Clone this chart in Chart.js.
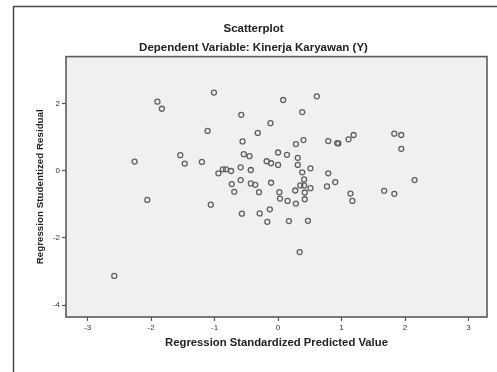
<!DOCTYPE html>
<html>
<head>
<meta charset="utf-8">
<script src="https://cdn.jsdelivr.net/npm/chart.js@4.4.0/dist/chart.umd.min.js"></script>
<style>
  html, body { margin: 0; padding: 0; background: #fff; }
  #wrap { width: 497px; height: 372px; }
</style>
</head>
<body>
<div id="wrap"><canvas id="scatterChart" width="497" height="372"></canvas></div>
<script>
// Regression standardized predicted value (x) vs studentized residual (y)
const predictedValues = [
  -2.58, -2.26, -2.06, -1.90, -1.83, -1.54, -1.47, -1.20, -1.11, -1.06,
  -1.01, -0.94, -0.87, -0.82, -0.74, -0.73, -0.69, -0.59, -0.59, -0.58,
  -0.57, -0.56, -0.54, -0.45, -0.43, -0.43, -0.36, -0.32, -0.30, -0.29,
  -0.18, -0.17, -0.13, -0.12, -0.11, -0.11, 0.00, 0.00, 0.02, 0.03,
  0.08, 0.14, 0.15, 0.17, 0.27, 0.28, 0.28, 0.31, 0.31, 0.34,
  0.35, 0.38, 0.38, 0.40, 0.41, 0.41, 0.42, 0.42, 0.47, 0.51,
  0.51, 0.61, 0.77, 0.79, 0.79, 0.90, 0.93, 0.95, 1.11, 1.14,
  1.17, 1.19, 1.67, 1.83, 1.83, 1.94, 1.94, 2.15
];
const studentizedResiduals = [
  -3.13, 0.27, -0.87, 2.05, 1.84, 0.46, 0.21, 0.26, 1.18, -1.01,
  2.32, -0.08, 0.04, 0.04, -0.01, -0.40, -0.63, 0.10, -0.28, 1.66,
  -1.28, 0.87, 0.49, 0.43, 0.02, -0.38, -0.42, 1.12, -0.64, -1.27,
  0.28, -1.52, -1.15, 1.41, 0.22, -0.36, 0.54, 0.17, -0.64, -0.83,
  2.10, 0.47, -0.90, -1.50, -0.59, 0.79, -0.98, 0.38, 0.17, -2.42,
  -0.44, 1.74, -0.05, 0.91, -0.26, -0.44, -0.65, -0.85, -1.49, 0.07,
  -0.52, 2.21, -0.47, 0.88, -0.08, -0.34, 0.82, 0.81, 0.93, -0.68,
  -0.90, 1.06, -0.60, -0.69, 1.10, 1.06, 0.65, -0.28
];
const xTickValues = [-3, -2, -1, 0, 1, 2, 3];
const yTickValues = [-4, -2, 0, 2];

const FONT = '"Liberation Sans", Arial, sans-serif';

// Draw the outer frame and the grey plot box
const framePlugin = {
  id: 'frame',
  beforeDraw(chart) {
    const ctx = chart.ctx;
    const a = chart.chartArea;
    ctx.save();
    ctx.strokeStyle = '#4a4a4a';
    ctx.lineWidth = 1.5;
    ctx.beginPath();
    ctx.moveTo(13.5, chart.height);
    ctx.lineTo(13.5, 6.5);
    ctx.lineTo(chart.width, 6.5);
    ctx.stroke();
    ctx.fillStyle = '#eff0f0';
    ctx.fillRect(a.left, a.top, a.right - a.left, a.bottom - a.top);
    ctx.restore();
  },
  afterDatasetsDraw(chart) {
    const ctx = chart.ctx;
    const a = chart.chartArea;
    ctx.save();
    ctx.strokeStyle = '#5a5a5a';
    ctx.lineWidth = 1.6;
    ctx.strokeRect(a.left, a.top, a.right - a.left, a.bottom - a.top);
    ctx.restore();
  }
};

const points = predictedValues.map((x, i) => ({ x: x, y: studentizedResiduals[i] }));

new Chart(document.getElementById('scatterChart'), {
  type: 'scatter',
  data: {
    datasets: [{
      data: points,
      pointStyle: 'circle',
      pointRadius: 2.5,
      pointBorderWidth: 1.3,
      pointBorderColor: '#606060',
      pointBackgroundColor: 'rgba(0,0,0,0)'
    }]
  },
  options: {
    responsive: false,
    animation: false,
    layout: { padding: { left: 20, right: 10, top: 0, bottom: 0 } },
    plugins: {
      legend: { display: false },
      tooltip: { enabled: false },
      title: {
        display: true,
        text: 'Scatterplot',
        color: '#222',
        font: { family: FONT, size: 11.5, weight: 'bold' },
        padding: { top: 22, bottom: 3 }
      },
      subtitle: {
        display: true,
        text: 'Dependent Variable: Kinerja Karyawan (Y)',
        color: '#222',
        font: { family: FONT, size: 11.5, weight: 'bold' },
        padding: { top: 2, bottom: 2 }
      }
    },
    scales: {
      x: {
        type: 'linear',
        min: -3.34,
        max: 3.29,
        afterFit(scale) { scale.height = 55; },
        afterBuildTicks(scale) { scale.ticks = xTickValues.map(v => ({ value: v })); },
        grid: { drawOnChartArea: false, drawTicks: true, tickLength: 4, tickColor: '#555', tickWidth: 1.2 },
        border: { display: false },
        ticks: { color: '#333', font: { family: FONT, size: 8 }, padding: 2, maxRotation: 0 },
        title: {
          display: true,
          text: 'Regression Standardized Predicted Value',
          color: '#222',
          font: { family: FONT, size: 11.3, weight: 'bold' },
          padding: { top: 0, bottom: 22 }
        }
      },
      y: {
        type: 'linear',
        min: -4.35,
        max: 3.39,
        afterFit(scale) { scale.width = 46; },
        afterBuildTicks(scale) { scale.ticks = yTickValues.map(v => ({ value: v })); },
        grid: { drawOnChartArea: false, drawTicks: true, tickLength: 4, tickColor: '#555', tickWidth: 1.2 },
        border: { display: false },
        ticks: { color: '#333', font: { family: FONT, size: 8 }, padding: 2 },
        title: {
          display: true,
          text: 'Regression Studentized Residual',
          color: '#222',
          font: { family: FONT, size: 9.8, weight: 'bold' },
          padding: { top: 14, bottom: 0 }
        }
      }
    }
  },
  plugins: [framePlugin]
});
</script>
</body>
</html>
